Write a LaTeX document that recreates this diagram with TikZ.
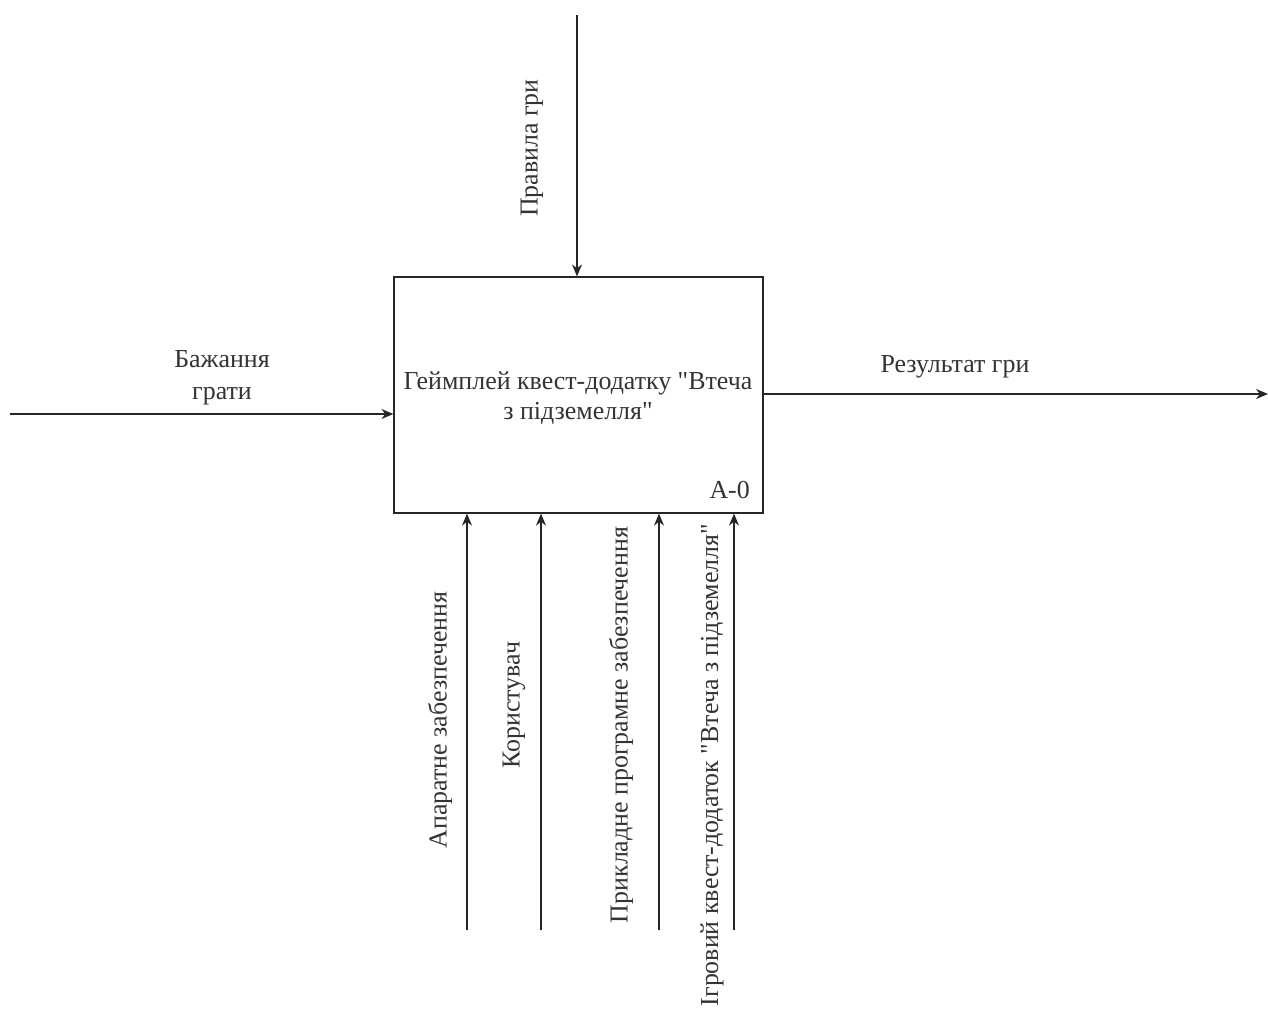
\documentclass[tikz,border=0pt]{standalone}
\usepackage{fontspec}
\defaultfontfeatures[\rmfamily]{}
\setmainfont{Liberation Serif}
\usetikzlibrary{arrows.meta}
\begin{document}
\begin{tikzpicture}[x=1bp,y=-1bp,
  conn/.style={draw=black!85,line width=1.2bp,-{Stealth[length=12bp,width=10bp]}},
  lbl/.style={font=\fontsize{26}{30}\selectfont,text=black!80,inner sep=0pt,align=center},
  vlbl/.style={lbl,rotate=90}]
\useasboundingbox[fill=white] (0,0) rectangle (1268,1010);
\node[draw=black!85,line width=1.2bp,minimum width=369bp,minimum height=236bp,inner sep=0pt] (box) at (578.5,395) {};
\node[lbl] (title) at (578,398) {Геймплей квест-додатку "Втеча\\з підземелля"};
\node[lbl,anchor=east] (code) at (750,490) {A-0};
% control
\coordinate (ctop) at (577,15);
\draw[conn] (ctop) -- (ctop |- box.north);
\node[vlbl] (lctl) at (532,148) {Правила гри};
% input
\coordinate (istart) at (10,414);
\draw[conn] (istart) -- (box.west |- istart);
\node[lbl,font=\fontsize{26}{32}\selectfont] (lin) at (222,378) {Бажання\\грати};
% output
\coordinate (oend) at (1268,394);
\draw[conn] (box.east |- oend) -- (oend);
\node[lbl] (lout) at (955,367) {Результат гри};
% mechanisms
\coordinate (m1) at (467,930);
\coordinate (m2) at (541,930);
\coordinate (m3) at (659,930);
\coordinate (m4) at (734,930);
\draw[conn] (m1) -- (m1 |- box.south);
\draw[conn] (m2) -- (m2 |- box.south);
\draw[conn] (m3) -- (m3 |- box.south);
\draw[conn] (m4) -- (m4 |- box.south);
\node[vlbl] (lm1) at (440,720) {Апаратне забезпечення};
\node[vlbl] (lm2) at (514,705) {Користувач};
\node[vlbl] (lm3) at (621,725) {Прикладне програмне забезпечення};
\node[vlbl] (lm4) at (712,765) {Ігровий квест-додаток "Втеча з підземелля"};
\end{tikzpicture}
\end{document}
